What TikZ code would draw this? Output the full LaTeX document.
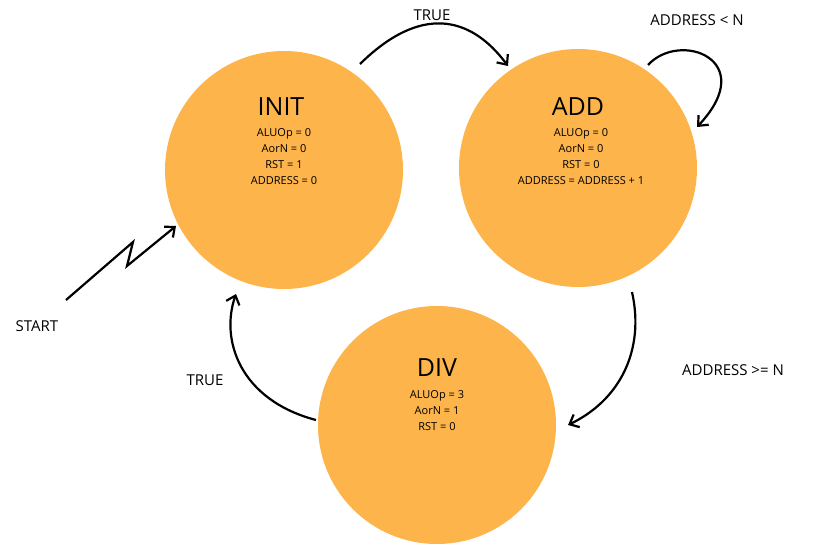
\documentclass[tikz,border=0pt]{standalone}
\usepackage{fontspec}
\setmainfont{Open Sans}
\usetikzlibrary{arrows.meta}
\definecolor{st}{HTML}{FDB44B}
\begin{document}
\begin{tikzpicture}[x=1pt,y=-1pt,
  state/.style={circle,fill=st,minimum size=238pt,inner sep=0pt},
  conn/.style={line width=2.2pt,-{Straight Barb[length=8pt,width=14pt,line width=2.2pt]}},
  lbl/.style={font=\fontsize{15}{15}\selectfont},
  ttl/.style={font=\fontsize{25}{25}\selectfont},
  sm/.style={font=\fontsize{11}{11}\selectfont}]
\useasboundingbox (0,0) rectangle (830,554);
\node[state] (init) at (284,170) {};
\node[state] (add) at (578,168) {};
\node[state] (div) at (437,425) {};
\node[ttl] (ti) at (281,107) {INIT};
\node[sm,align=center,anchor=north] (bi) at (284,125) {ALUOp = 0\\[5pt]AorN = 0\\[5pt]RST = 1\\[5pt]ADDRESS = 0};
\node[ttl] (ta) at (578,107) {ADD};
\node[sm,align=center,anchor=north] (ba) at (581,125) {ALUOp = 0\\[5pt]AorN = 0\\[5pt]RST = 0\\[5pt]ADDRESS = ADDRESS + 1};
\node[ttl] (td) at (437,368) {DIV};
\node[sm,align=center,anchor=north] (bd) at (437,387) {ALUOp = 3\\[5pt]AorN = 1\\[5pt]RST = 0};
\node[lbl] (l1) at (432,15) {TRUE};
\node[lbl] (l2) at (697,20) {ADDRESS < N};
\node[lbl] (l3) at (733,370) {ADDRESS >= N};
\node[lbl] (l4) at (205,380) {TRUE};
\node[lbl] (l5) at (37,326) {START};
\coordinate (a1) at (360,64);
\coordinate (a2) at (508,66);
\draw[conn] (a1) .. controls (420,5) and (470,15) .. (a2);
\coordinate (b1) at (648,65);
\coordinate (b2) at (697,127);
\draw[conn] (b1) .. controls (680,30) and (760,60) .. (b2);
\coordinate (c1) at (632,292);
\coordinate (c2) at (568,425);
\draw[conn] (c1) .. controls (645,350) and (620,400) .. (c2);
\coordinate (d1) at (316,420);
\coordinate (d2) at (236,294);
\draw[conn] (d1) .. controls (240,400) and (220,340) .. (d2);
\coordinate (s1) at (66,300);
\coordinate (s2) at (176,226);
\draw[conn] (s1) -- (133,242) -- (127,266) -- (s2);
\end{tikzpicture}
\end{document}
